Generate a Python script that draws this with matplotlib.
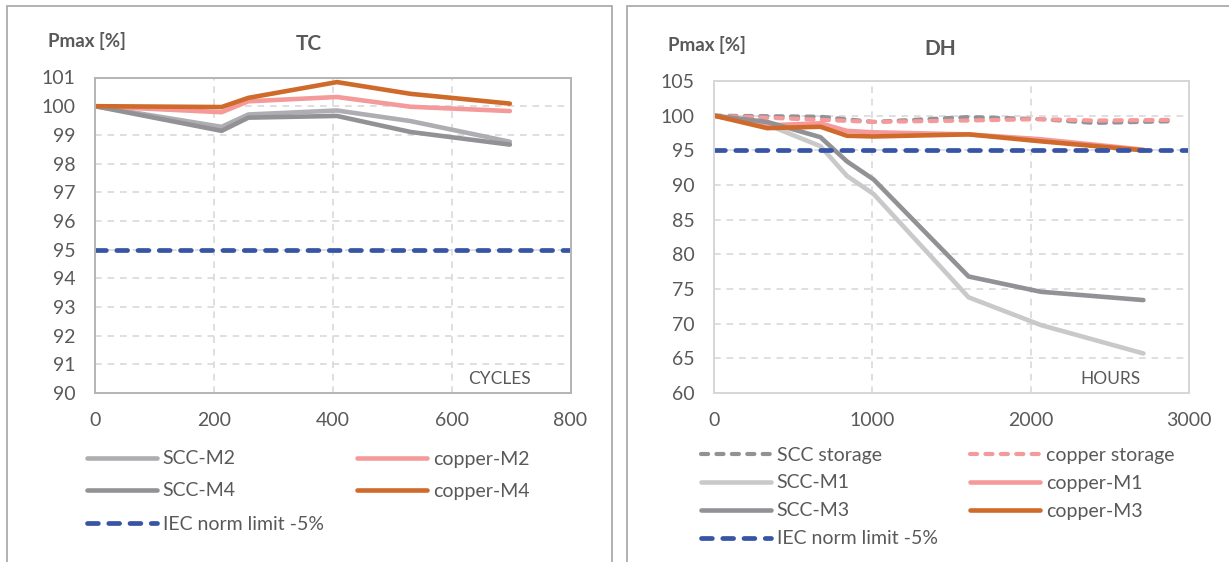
import matplotlib
matplotlib.use("Agg")
import matplotlib.pyplot as plt
from matplotlib.lines import Line2D
from matplotlib.patches import Rectangle

plt.rcParams['font.family'] = ['Lato', 'DejaVu Sans']

# ---------------- data ----------------
tc_cycles = [0, 213, 258, 407, 531, 698]
tc_scc_m2 = [100, 99.28, 99.71, 99.85, 99.48, 98.76]
tc_copper_m2 = [100, 99.79, 100.17, 100.32, 99.98, 99.83]
tc_scc_m4 = [100, 99.14, 99.60, 99.66, 99.10, 98.66]
tc_copper_m4 = [100, 99.97, 100.29, 100.84, 100.43, 100.09]
tc_iec_x = [0, 800]
tc_iec_y = [95, 95]

dh_hours = [0, 336, 672, 840, 1008, 1608, 2064, 2712]
dh_scc_m1 = [100, 98.7, 95.6, 91.3, 88.7, 73.8, 69.8, 65.7]
dh_scc_m3 = [100, 99.1, 96.9, 93.4, 90.8, 76.8, 74.6, 73.4]
dh_copper_m1 = [100, 98.6, 98.9, 97.8, 97.6, 97.3, 96.6, 95.1]
dh_copper_m3 = [100, 98.2, 98.4, 97.1, 97.0, 97.3, 96.3, 95.0]
storage_hours = [0, 672, 1008, 1608, 2064, 2400, 2900]
dh_scc_storage = [100, 99.85, 99.1, 99.8, 99.5, 98.95, 99.2]
dh_copper_storage = [100, 99.4, 99.1, 99.3, 99.5, 99.3, 99.4]
dh_iec_x = [0, 3000]
dh_iec_y = [95, 95]

tc_xticks = [0, 200, 400, 600, 800]
tc_yticks = list(range(90, 102))
dh_xticks = [0, 1000, 2000, 3000]
dh_yticks = list(range(60, 106, 5))

# ---------------- style ----------------
W, H = 1229, 562
TXT = '#595959'
C_SCC_LIGHT = '#aeaeb2'
C_SCC_DARK = '#929296'
C_SCC_VLIGHT = '#c9c9c9'
C_PINK = '#f59a9a'
C_ORANGE = '#cf6a2a'
C_BLUE = '#3754a5'
LW = 3.3
FS = 14

fig = plt.figure(figsize=(W / 100, H / 100), dpi=100)

# panel frames
for x0, x1 in [(7, 612), (627, 1260)]:
    fig.patches.append(Rectangle((x0 / W, -0.2), (x1 - x0) / W, 1.2 - 5.5 / H,
                                 transform=fig.transFigure, fill=False,
                                 edgecolor='#ababab', lw=1.3))


def ax_rect(l, t, r, b):
    return [l / W, 1 - b / H, (r - l) / W, (b - t) / H]


ax1 = fig.add_axes(ax_rect(95, 77.5, 570.5, 393))
ax2 = fig.add_axes(ax_rect(714, 81, 1189, 393))


def style_axes(ax, xt, yt, spine_color):
    ax.set_xticks(xt)
    ax.set_yticks(yt)
    ax.set_xlim(xt[0], xt[-1])
    ax.set_ylim(yt[0], yt[-1])
    ax.grid(True, color='#d9d9d9', lw=1.2, linestyle=(0, (4, 3.5)))
    ax.set_axisbelow(True)
    for s in ax.spines.values():
        s.set_color(spine_color)
        s.set_linewidth(1.4)
    ax.tick_params(length=0, pad=14, labelsize=FS, labelcolor=TXT)


style_axes(ax1, tc_xticks, tc_yticks, '#b4b4b4')
style_axes(ax2, dh_xticks, dh_yticks, '#d6d6d6')

solid = dict(lw=LW, solid_capstyle='round', solid_joinstyle='round')
iec_style = dict(lw=3.4, color=C_BLUE, linestyle=(0, (2.3, 2.2)),
                 dash_capstyle='round')
stor_style = dict(lw=3.0, linestyle=(0, (1.7, 2.0)), dash_capstyle='round')

# TC
l_scc_m2, = ax1.plot(tc_cycles, tc_scc_m2, color=C_SCC_LIGHT, label='SCC-M2', **solid)
l_cu_m2, = ax1.plot(tc_cycles, tc_copper_m2, color=C_PINK, label='copper-M2', **solid)
l_scc_m4, = ax1.plot(tc_cycles, tc_scc_m4, color=C_SCC_DARK, label='SCC-M4', **solid)
l_cu_m4, = ax1.plot(tc_cycles, tc_copper_m4, color=C_ORANGE, label='copper-M4', **solid)
l_iec1, = ax1.plot(tc_iec_x, tc_iec_y, label='IEC norm limit -5%', **iec_style)

# DH
l_scc_st, = ax2.plot(storage_hours, dh_scc_storage, color=C_SCC_DARK, label='SCC storage', **stor_style)
l_cu_st, = ax2.plot(storage_hours, dh_copper_storage, color=C_PINK, label='copper storage', **stor_style)
l_scc_m1, = ax2.plot(dh_hours, dh_scc_m1, color=C_SCC_VLIGHT, label='SCC-M1', **solid)
l_cu_m1, = ax2.plot(dh_hours, dh_copper_m1, color=C_PINK, label='copper-M1', **solid)
l_scc_m3, = ax2.plot(dh_hours, dh_scc_m3, color=C_SCC_DARK, label='SCC-M3', **solid)
l_cu_m3, = ax2.plot(dh_hours, dh_copper_m3, color=C_ORANGE, label='copper-M3', **solid)
l_iec2, = ax2.plot(dh_iec_x, dh_iec_y, label='IEC norm limit -5%', **iec_style)

# titles & labels
fig.text(48 / W, 1 - 41 / H, 'Pmax [%]', fontsize=13.5, fontweight='bold', color=TXT,
         ha='left', va='center')
fig.text(309 / W, 1 - 44 / H, 'TC', fontsize=15, fontweight='bold', color=TXT,
         ha='center', va='center')
fig.text(668 / W, 1 - 45 / H, 'Pmax [%]', fontsize=13.5, fontweight='bold', color=TXT,
         ha='left', va='center')
fig.text(940 / W, 1 - 49 / H, 'DH', fontsize=15, fontweight='bold', color=TXT,
         ha='center', va='center')
ax1.text(0.85, 0.044, 'CYCLES', transform=ax1.transAxes, fontsize=12.5, color=TXT,
         ha='center', va='center')
ax2.text(0.834, 0.044, 'HOURS', transform=ax2.transAxes, fontsize=12.5, color=TXT,
         ha='center', va='center')


def entry(handle, x_px, y_px):
    fig.legend([handle], [handle.get_label()], loc='center left',
               bbox_to_anchor=(x_px / W, 1 - y_px / H), bbox_transform=fig.transFigure,
               frameon=False, borderpad=0, borderaxespad=0, handlelength=3.6,
               handletextpad=0.3, fontsize=FS, labelcolor=TXT)


entry(l_scc_m2, 87, 459)
entry(l_cu_m2, 357, 459)
entry(l_scc_m4, 87, 491)
entry(l_cu_m4, 357, 491)
entry(l_iec1, 87, 524)

entry(l_scc_st, 701, 455)
entry(l_cu_st, 970, 455)
entry(l_scc_m1, 701, 483)
entry(l_cu_m1, 970, 483)
entry(l_scc_m3, 701, 511)
entry(l_cu_m3, 970, 511)
entry(l_iec2, 701, 539)

fig.savefig('out.png', dpi=100)
